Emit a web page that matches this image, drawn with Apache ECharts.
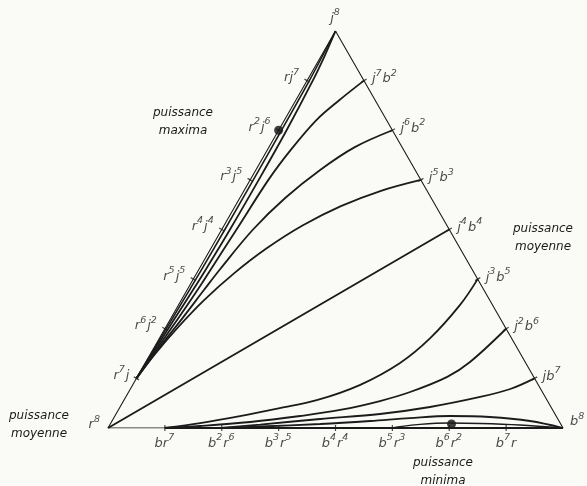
<!DOCTYPE html>
<html>
<head>
<meta charset="utf-8">
<script src="https://cdn.jsdelivr.net/npm/echarts@6/dist/echarts.min.js"></script>
<style>
  html, body { margin: 0; padding: 0; background: #fafaf7; }
  #chart { width: 587px; height: 486px; }
</style>
</head>
<body>
<div id="chart"></div>
<script>
// points are compositions [b, j] in eighths (r = 8 - b - j)
const apexCurveA = [[0, 8], [0.04, 7], [0.05, 6], [0.055, 5], [0.055, 4], [0.05, 3.2], [0.042, 2.8], [0.028, 2.2], [0.014, 1.6], [0, 1]]
const apexCurveB = [[0, 8], [0.06, 7.5], [0.1, 7], [0.14, 6], [0.15, 5], [0.145, 4], [0.123, 3.2], [0.105, 2.8], [0.07, 2.2], [0.035, 1.6], [0, 1]]
const curveJ7 = [[1, 7], [0.76, 6.6], [0.56, 6.2], [0.41, 5.6], [0.32, 5], [0.26, 4], [0.21, 3.2], [0.185, 2.8], [0.13, 2.2], [0.06, 1.6], [0, 1]]
const curveJ6 = [[2, 6], [1.51, 5.66], [1.13, 5.2], [0.8, 4.64], [0.55, 4], [0.37, 3.2], [0.3, 2.8], [0.2, 2.2], [0.088, 1.6], [0, 1]]
const curveJ5 = [[3, 5], [2.41, 4.78], [1.86, 4.47], [1.38, 4.08], [0.98, 3.62], [0.655, 3.11], [0.4, 2.57], [0.209, 2.0], [0.081, 1.48], [0, 1]]
const curveJ4 = [[4, 4], [2, 2], [0, 0]]
const curveJ3 = [[5, 3], [4.95, 2.48], [4.76, 1.81], [4.48, 1.31], [4.0, 0.87], [3.39, 0.56], [2.82, 0.4], [2.2, 0.24], [1.57, 0.1], [1, 0]]
const curveJ2 = [[6, 2], [5.7, 1.33], [5.45, 1.03], [4.95, 0.725], [4.51, 0.544], [3.9, 0.363], [3.26, 0.242], [2.44, 0.121], [1.6, 0.04], [1, 0]]
const curveJ1 = [[7, 1], [6.68, 0.786], [6.23, 0.625], [5.45, 0.423], [4.64, 0.282], [3.64, 0.181], [2.64, 0.07], [2, 0]]
const curveB1 = [[8, 0], [7.35, 0.141], [6.6, 0.222], [5.89, 0.242], [5.21, 0.2], [4.54, 0.141], [3.69, 0.081], [2.66, 0.03], [2, 0]]
const curveB2 = [[8, 0], [7.21, 0.06], [6.5, 0.091], [5.95, 0.101], [5.45, 0.071], [5, 0]]
const triangle = [[0, 0], [8, 0], [0, 8], [0, 0]]
const bottomHeavy = [[1, 0], [8, 0]]
const bigDots = [[0, 6], [6, 0.08]]

const leftLabels = ['r⁸', 'r⁷j', 'r⁶j²', 'r⁵j⁵', 'r⁴j⁴', 'r³j⁵', 'r²j⁶', 'rj⁷'] // j = 0..7
const rightLabels = ['jb⁷', 'j²b⁶', 'j³b⁵', 'j⁴b⁴', 'j⁵b³', 'j⁶b²', 'j⁷b²'] // j = 1..7
const bottomLabels = ['br⁷', 'b²r⁶', 'b³r⁵', 'b⁴r⁴', 'b⁵r³', 'b⁶r²', 'b⁷r'] // b = 1..7

const notes = [
  { text: 'puissance\nmaxima', x: 183, y: 122 },
  { text: 'puissance\nmoyenne', x: 39, y: 425 },
  { text: 'puissance\nmoyenne', x: 543, y: 238 },
  { text: 'puissance\nminima', x: 443, y: 472 }
]

const ink = '#1b1b1b'
const supDigits = '⁰¹²³⁴⁵⁶⁷⁸⁹'

function toXY (p) {
  return [p[0] + p[1] / 2, p[1]]
}

// 'j⁷b²' -> rich text with raised exponents
function richText (s) {
  let out = ''
  for (const ch of s) {
    const k = supDigits.indexOf(ch)
    out += k >= 0 ? '{s|' + k + '}' : '{n|' + ch + '}'
  }
  return out
}

function curve (pts, width, smooth) {
  return {
    type: 'line',
    data: pts.map(toXY),
    smooth: smooth === undefined ? 0.35 : smooth,
    showSymbol: false,
    silent: true,
    lineStyle: { color: ink, width: width || 1.8 }
  }
}

function ticks (pts, rotate) {
  return {
    type: 'scatter',
    data: pts.map(toXY),
    symbol: 'rect',
    symbolSize: [1.2, 6],
    symbolRotate: rotate,
    itemStyle: { color: ink },
    silent: true
  }
}

function labels (pts, texts, position, distance, offset) {
  return {
    type: 'scatter',
    data: pts.map((p, i) => ({ value: toXY(p), name: texts[i] })),
    symbolSize: 0,
    silent: true,
    label: {
      show: true,
      position: position,
      distance: distance,
      offset: offset,
      formatter: (d) => richText(d.name),
      rich: {
        n: { fontFamily: 'DejaVu Sans', fontStyle: 'italic', fontSize: 13, color: '#1a1a1a', lineHeight: 17, verticalAlign: 'bottom' },
        s: { fontFamily: 'DejaVu Sans', fontStyle: 'italic', fontSize: 9.5, color: '#1a1a1a', lineHeight: 17, verticalAlign: 'top', padding: [0, 1, 0, 0] }
      }
    }
  }
}

const leftPts = leftLabels.map((t, j) => [0, j])
const rightPts = rightLabels.map((t, i) => [7 - i, i + 1])
const bottomPts = bottomLabels.map((t, i) => [i + 1, 0])

const chart = echarts.init(document.getElementById('chart'))
chart.setOption({
  backgroundColor: '#fafaf7',
  animation: false,
  grid: { left: 108, right: 24, top: 31, bottom: 58 },
  xAxis: { type: 'value', min: 0, max: 8, show: false },
  yAxis: { type: 'value', min: 0, max: 8, show: false },
  graphic: notes.map(n => ({
    type: 'text',
    x: n.x,
    y: n.y,
    style: {
      text: n.text,
      textAlign: 'center',
      textVerticalAlign: 'middle',
      font: 'italic 12px "DejaVu Sans"',
      lineHeight: 18,
      fill: '#1a1a1a'
    }
  })),
  series: [
    curve(triangle, 1.1, false),
    curve(bottomHeavy, 2, false),
    curve(curveJ4, 1.9, false),
    curve(apexCurveA, 1.6),
    curve(apexCurveB, 1.8),
    curve(curveJ7),
    curve(curveJ6),
    curve(curveJ5),
    curve(curveJ3),
    curve(curveJ2),
    curve(curveJ1),
    curve(curveB1),
    curve(curveB2, 1.3),
    ticks(leftPts.slice(1), 60),
    ticks(rightPts, -60),
    ticks(bottomPts, 0),
    {
      type: 'scatter',
      data: bigDots.map(toXY),
      symbolSize: 9,
      itemStyle: { color: '#111' },
      silent: true
    },
    labels(leftPts, leftLabels, 'left', 7, [0, -5]),
    labels(rightPts, rightLabels, 'right', 8, [0, -4]),
    labels(bottomPts, bottomLabels, 'bottom', 5, [0, 0]),
    labels([[0, 8]], ['j⁸'], 'top', 6, [0, 0]),
    labels([[8, 0]], ['b⁸'], 'right', 7, [0, -8])
  ]
})
</script>
</body>
</html>
